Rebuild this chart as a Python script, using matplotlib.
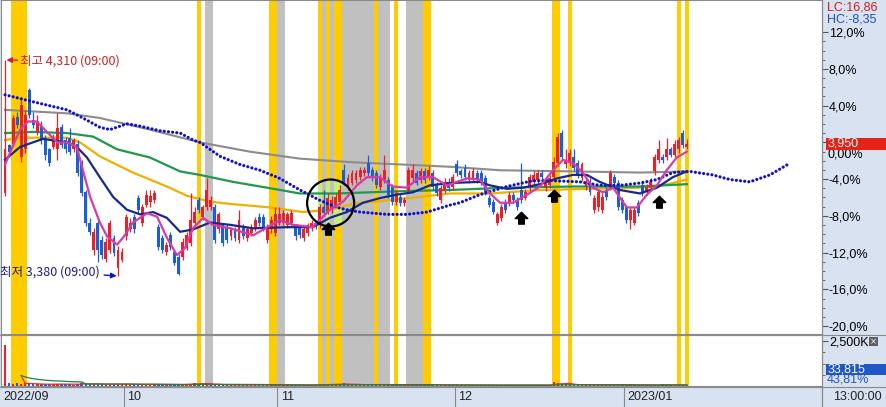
import numpy as np
import pandas as pd
import matplotlib
matplotlib.use("Agg")
import matplotlib.pyplot as plt
from matplotlib.patches import Rectangle, Circle
from matplotlib.lines import Line2D
from matplotlib.path import Path
from matplotlib.transforms import ScaledTranslation, blended_transform_factory

# === DATA ===
BASE_PRICE = 3955          # price at 0.00 %
LAST_PRICE = 3950
LAST_VOLUME = "33,815"
LAST_VOLUME_PCT = "43,81%"
LC_TEXT = "LC:16,86"
HC_TEXT = "HC:-8,35"
HIGH_IDX, HIGH_PRICE = 0, 4310
LOW_IDX, LOW_PRICE = 28, 3380
HIGH_LABEL = "최고 4,310 (09:00)"
LOW_LABEL = "최저 3,380 (09:00)"

OPEN = [3735, 3945, 3950, 4065, 3890, 3925, 4180, 4050, 4000, 4025,
        3965, 3925, 3935, 3925, 4020, 3965, 3975, 3925, 3950, 3865,
        3740, 3610, 3490, 3610, 3535, 3455, 3490, 3545, 3415, 3450,
        3550, 3580, 3635, 3715, 3610, 3685, 3700, 3705, 3590, 3545,
        3485, 3555, 3485, 3460, 3460, 3500, 3520, 3610, 3705, 3635,
        3675, 3675, 3675, 3580, 3600, 3590, 3550, 3580, 3535, 3590,
        3545, 3565, 3585, 3635, 3635, 3535, 3580, 3565, 3610, 3610,
        3600, 3610, 3590, 3585, 3545, 3565, 3585, 3610, 3600, 3675,
        3655, 3665, 3685, 3700, 3835, 3765, 3780, 3795, 3805, 3825,
        3865, 3835, 3825, 3765, 3795, 3795, 3765, 3700, 3720, 3695,
        3750, 3800, 3825, 3795, 3830, 3805, 3825, 3770, 3705, 3750,
        3785, 3765, 3860, 3830, 3845, 3795, 3800, 3825, 3825, 3800,
        3715, 3700, 3610, 3630, 3700, 3695, 3730, 3705, 3750, 3715,
        3760, 3785, 3795, 3825, 3760, 3770, 3805, 3865, 3995, 3860,
        3865, 3890, 3865, 3800, 3765, 3785, 3665, 3675, 3665, 3750,
        3765, 3805, 3780, 3705, 3675, 3620, 3610, 3695, 3770, 3740,
        3760, 3830, 3880, 3890, 3890, 3925, 3900, 3925, 3995, 3935]
HIGH = [4310, 3950, 4075, 4085, 4140, 4095, 4190, 4085, 4075, 4045,
        3985, 3930, 3990, 4080, 4035, 3980, 4015, 3975, 3965, 3880,
        3750, 3630, 3585, 3620, 3550, 3545, 3620, 3555, 3510, 3500,
        3645, 3630, 3645, 3730, 3690, 3750, 3750, 3750, 3605, 3555,
        3525, 3570, 3495, 3475, 3545, 3570, 3735, 3675, 3720, 3685,
        3800, 3725, 3690, 3655, 3610, 3605, 3590, 3590, 3665, 3605,
        3590, 3605, 3635, 3650, 3645, 3605, 3640, 3675, 3675, 3665,
        3655, 3665, 3605, 3600, 3590, 3610, 3620, 3620, 3690, 3750,
        3735, 3725, 3735, 3770, 3860, 3820, 3835, 3835, 3850, 3850,
        3900, 3850, 3835, 3820, 3900, 3805, 3775, 3750, 3735, 3720,
        3850, 3860, 3835, 3845, 3845, 3855, 3835, 3785, 3770, 3800,
        3800, 3820, 3880, 3840, 3860, 3835, 3845, 3835, 3835, 3815,
        3730, 3710, 3655, 3690, 3710, 3740, 3740, 3720, 3865, 3755,
        3820, 3830, 3835, 3835, 3800, 3815, 3890, 3995, 4010, 3925,
        3925, 3925, 3880, 3870, 3800, 3800, 3730, 3755, 3735, 3765,
        3835, 3820, 3795, 3720, 3685, 3675, 3675, 3705, 3785, 3775,
        3800, 3905, 3965, 3905, 3975, 3935, 3965, 3980, 4010, 3970]
LOW = [3725, 3900, 3940, 4015, 3870, 3910, 4060, 4015, 3985, 3950,
       3880, 3855, 3925, 3880, 3930, 3910, 3900, 3915, 3810, 3725,
       3595, 3555, 3470, 3440, 3455, 3440, 3480, 3465, 3380, 3440,
       3535, 3570, 3565, 3645, 3595, 3675, 3675, 3695, 3490, 3480,
       3470, 3490, 3425, 3385, 3450, 3490, 3510, 3600, 3650, 3620,
       3665, 3665, 3520, 3565, 3510, 3520, 3535, 3530, 3520, 3540,
       3530, 3550, 3575, 3595, 3575, 3520, 3565, 3550, 3600, 3600,
       3585, 3600, 3535, 3545, 3530, 3550, 3575, 3580, 3585, 3640,
       3645, 3650, 3675, 3685, 3770, 3750, 3770, 3780, 3795, 3810,
       3810, 3790, 3760, 3750, 3780, 3715, 3685, 3685, 3680, 3680,
       3735, 3790, 3770, 3780, 3780, 3795, 3750, 3725, 3695, 3735,
       3745, 3750, 3810, 3800, 3795, 3780, 3790, 3780, 3770, 3730,
       3675, 3645, 3600, 3615, 3650, 3680, 3695, 3665, 3695, 3705,
       3745, 3770, 3780, 3795, 3745, 3760, 3795, 3855, 3880, 3845,
       3855, 3830, 3800, 3790, 3750, 3730, 3650, 3660, 3650, 3705,
       3750, 3770, 3665, 3650, 3610, 3580, 3600, 3640, 3725, 3730,
       3745, 3815, 3865, 3865, 3880, 3890, 3890, 3910, 3930, 3925]
CLOSE = [3925, 3915, 4060, 4030, 4115, 4075, 4075, 4030, 4045, 3965,
         3900, 3865, 3975, 4015, 3945, 3925, 3915, 3965, 3825, 3735,
         3610, 3570, 3570, 3490, 3470, 3525, 3610, 3480, 3490, 3485,
         3635, 3610, 3580, 3665, 3675, 3730, 3725, 3735, 3505, 3490,
         3515, 3505, 3435, 3390, 3525, 3555, 3620, 3655, 3665, 3675,
         3750, 3705, 3535, 3645, 3520, 3535, 3580, 3545, 3620, 3550,
         3580, 3590, 3620, 3610, 3585, 3590, 3620, 3645, 3645, 3650,
         3645, 3650, 3550, 3555, 3580, 3600, 3610, 3590, 3675, 3650,
         3715, 3705, 3720, 3750, 3780, 3800, 3825, 3825, 3835, 3835,
         3825, 3800, 3770, 3805, 3835, 3730, 3700, 3735, 3695, 3705,
         3835, 3835, 3780, 3830, 3795, 3835, 3765, 3735, 3760, 3785,
         3760, 3805, 3825, 3815, 3805, 3825, 3830, 3795, 3785, 3740,
         3685, 3655, 3645, 3675, 3665, 3730, 3705, 3675, 3705, 3740,
         3805, 3815, 3825, 3805, 3785, 3800, 3870, 3980, 3890, 3880,
         3910, 3845, 3815, 3860, 3785, 3740, 3715, 3740, 3720, 3720,
         3825, 3780, 3675, 3665, 3620, 3665, 3665, 3650, 3735, 3765,
         3785, 3890, 3925, 3880, 3925, 3900, 3950, 3965, 3945, 3950]
VOLUME_K = [2300, 160, 130, 180, 120, 150, 110, 100, 90, 110,
            100, 90, 120, 130, 100, 90, 100, 80, 120, 140,
            120, 110, 120, 100, 100, 90, 110, 130, 120, 100,
            90, 80, 70, 100, 90, 80, 110, 60, 70, 90,
            80, 70, 60, 90, 80, 100, 120, 180, 90, 170,
            110, 70, 60, 80, 70, 60, 50, 70, 60, 50,
            70, 60, 50, 60, 80, 70, 60, 90, 70, 60,
            50, 60, 50, 40, 60, 50, 40, 60, 90, 70,
            110, 90, 100, 120, 140, 80, 70, 90, 60, 80,
            70, 100, 60, 50, 60, 50, 70, 80, 60, 50,
            110, 80, 70, 60, 90, 70, 50, 60, 50, 40,
            60, 50, 40, 50, 60, 40, 50, 40, 60, 50,
            40, 50, 60, 50, 40, 50, 60, 40, 50, 60,
            40, 50, 60, 50, 40, 50, 250, 180, 90, 120,
            70, 60, 50, 70, 60, 50, 40, 50, 60, 50,
            40, 60, 50, 40, 50, 60, 80, 70, 50, 40,
            60, 70, 50, 90, 80, 60, 70, 60, 50, 34]

# moving averages (bar index, price)
MA5_X = [0, 3.7, 5.7, 7.9, 10.4, 12.9, 15.4, 17.8, 19.3, 21.1, 23.5, 25.3, 27.8, 29.7,
         31.7, 35.2, 37.7, 40.1, 42.6, 44.6, 46.6, 49.1, 51.5, 55.8, 61.5, 68.1, 71.4,
         76.3, 80.5, 83.8, 87.2, 89.7, 92.9, 96.1, 99.6, 102.8, 106.1, 109.5, 114.5,
         117.7, 120.2, 122.7, 125.9, 129.4, 132.6, 135.8, 138.3, 140.8, 143.2, 145.7,
         148.2, 150.7, 154.1, 156.6, 159.1, 161.6, 164, 166.5, 169]
MA5_Y = [3860, 4010, 4045, 4045, 4000, 3955, 3955, 3935, 3835, 3720, 3610, 3550, 3515, 3555,
         3610, 3650, 3635, 3545, 3470, 3500, 3585, 3630, 3600, 3585, 3555, 3620, 3600,
         3590, 3665, 3700, 3770, 3805, 3805, 3765, 3760, 3805, 3805, 3770, 3800,
         3795, 3735, 3695, 3695, 3730, 3765, 3835, 3880, 3865, 3825, 3760,
         3740, 3760, 3675, 3675, 3730, 3770, 3835, 3890, 3915]
MA20_X = [0, 3.7, 6.9, 9.4, 15.4, 17.8, 20.3, 23.5, 26.8, 30.2, 33.5, 36.7, 40.1, 43.4,
          46.6, 50.8, 55.8, 61.5, 69.9, 76.3, 80.5, 84.7, 88.7, 92.9, 97.1, 101.1, 105.3,
          110.3, 117.7, 120.2, 124.4, 128.4, 132.6, 136.8, 140.8, 144.2, 147.4, 152.4,
          157.4, 161.6, 165.5, 169]
MA20_Y = [3880, 3935, 3955, 3970, 3955, 3935, 3890, 3805, 3720, 3665, 3645, 3655, 3630, 3570,
          3580, 3610, 3600, 3585, 3590, 3590, 3630, 3655, 3695, 3715, 3730, 3740, 3770,
          3780, 3785, 3770, 3755, 3760, 3775, 3800, 3815, 3815, 3785, 3750,
          3735, 3760, 3805, 3830]
MA60_X = [0, 6.9, 15.4, 21.8, 27.8, 35.9, 43.4, 48.3, 56.5, 64.9, 73.1, 82.3, 90.4, 98.6,
          110.3, 124.4, 140.8, 157.4, 169]
MA60_Y = [3995, 4000, 3995, 3980, 3925, 3890, 3830, 3815, 3785, 3760, 3735, 3735, 3740, 3745,
          3750, 3760, 3765, 3765, 3775]
MA120_X = [0, 3.7, 15.4, 18.6, 23.5, 31.7, 40.1, 45.1, 50.8, 55.8, 65.7, 73.8, 80.5, 86.2,
           94.7, 102.8, 110.3, 120.2, 132.6, 145, 157.4, 161.6, 165.5, 169]
MA120_Y = [3965, 3975, 3975, 3955, 3895, 3825, 3765, 3725, 3700, 3690, 3675, 3655, 3665, 3690,
           3705, 3720, 3735, 3735, 3750, 3755, 3760, 3765, 3780, 3795]
MA240_X = [0, 15.4, 23.5, 35.9, 48.3, 60.7, 73.1, 85.5, 97.9, 110.3, 122.7, 140.8, 157.4, 169]
MA240_Y = [4095, 4080, 4060, 4010, 3955, 3915, 3885, 3870, 3860, 3850, 3835, 3830, 3825, 3830]
# leading (shifted forward) line, drawn as dots
LEAD_X = [0, 6.9, 15.4, 19.3, 23.5, 26, 30.2, 33.5, 38.4, 43.4, 46.6, 48.3, 53.3, 58.2,
          63.2, 68.1, 73.1, 78.1, 82.3, 84.7, 88, 94.7, 99.6, 104.6, 110.3, 112.7, 117.7,
          124.4, 130.8, 135.8, 142.5, 147.4, 152.4, 157.4, 161.6, 165.5, 169.7, 175.4,
          179.7, 184.6, 189.6, 194.5]
LEAD_Y = [4160, 4130, 4095, 4060, 4020, 4010, 4035, 4025, 4005, 3995, 3965, 3955, 3895, 3860,
          3835, 3800, 3750, 3705, 3675, 3665, 3655, 3645, 3645, 3655, 3685, 3695, 3730,
          3765, 3790, 3790, 3785, 3770, 3770, 3780, 3795, 3825, 3830, 3815,
          3795, 3785, 3815, 3865]

# highlighted bar ranges (first bar, last bar)
YELLOW_BANDS = [(2, 5), (48, 48), (66, 67), (78, 78), (80, 80), (82, 83), (92, 92), (97, 97),
                (104, 105), (136, 137), (140, 140), (167, 167), (169, 169)]
GRAY_BANDS = [(50, 51), (68, 69), (79, 79), (81, 81), (84, 91), (93, 95), (100, 103)]

SIGNAL_IDX = [80, 128, 136, 162]
SIGNAL_PRICE = [3580, 3630, 3725, 3700]
CIRCLE_IDX, CIRCLE_PRICE = 80.7, 3694

MONTH_START = [30, 68, 112, 154]
MONTH_LABELS = ["2022/09", "10", "11", "12", "2023/01"]

# === STYLE ===
W, H, DPI = 886, 407, 100
PANEL = "#d8e2f0"
RED = "#e8202a"
BLUE = "#1c5fd4"
YELLOW = "#ffcc00"
BAND_GRAY = "#c0c0c0"
LIME = "#c8ee78"
EDGE = "#8a8a8a"

plt.rcParams["font.family"] = ["Liberation Sans", "Noto Sans CJK KR", "DejaVu Sans"]
plt.rcParams["font.size"] = 9
KR = ["Noto Sans CJK KR", "DejaVu Sans"]


def fx(px):
    return px / W


def fy(py):
    return 1 - py / H


fig = plt.figure(figsize=(W / DPI, H / DPI), dpi=DPI)
fig.patch.set_facecolor(PANEL)

ax = fig.add_axes([fx(1), fy(334), 821 / W, 334 / H])
axv = fig.add_axes([fx(1), fy(386), 821 / W, 51 / H])
axd = fig.add_axes([fx(1), 0, 821 / W, 20 / H])

XLIM = (-1.0, 202.5)
for a in (ax, axv, axd):
    a.set_xlim(*XLIM)
    a.set_xticks([])
    for s in a.spines.values():
        s.set_color(EDGE)
        s.set_linewidth(0.8)
ax.set_facecolor("white")
axv.set_facecolor("white")
axd.set_facecolor(PANEL)
ax.set_ylim(3130, 4568)
axv.set_ylim(0, 2835)
axd.set_ylim(0, 1)
axd.set_yticks([])

# --- bands ---
circ_tr = fig.dpi_scale_trans + ScaledTranslation(CIRCLE_IDX, CIRCLE_PRICE, ax.transData)
clip_circle = Circle((0, 0), radius=23.5 / DPI, transform=circ_tr)
for bands, col in ((YELLOW_BANDS, YELLOW), (GRAY_BANDS, BAND_GRAY)):
    for a0, a1 in bands:
        for a in (ax, axv):
            a.axvspan(a0 - 0.5, a1 + 0.5, color=col, lw=0, zorder=0.5)
for a0, a1 in YELLOW_BANDS:
    sp = ax.axvspan(a0 - 0.5, a1 + 0.5, color=LIME, lw=0, zorder=0.6)
    sp.set_clip_path(clip_circle)

# --- moving averages ---
ax.plot(MA240_X, MA240_Y, color="#8c8c8c", lw=1.5, zorder=2)
ax.plot(MA120_X, MA120_Y, color="#f0b000", lw=1.6, zorder=2)
ax.plot(MA60_X, MA60_Y, color="#1e9a48", lw=1.6, zorder=2)
ax.plot(LEAD_X, LEAD_Y, color="#1010cc", lw=2.3, linestyle=(0, (0.01, 1.3)),
        dash_capstyle="round", zorder=4)

# --- candles ---
x = np.arange(len(CLOSE))
o, h, l, c = map(np.array, (OPEN, HIGH, LOW, CLOSE))
colors = np.where(c >= o, RED, BLUE)
ax.vlines(x, l, h, colors=colors, lw=0.9, zorder=3)
ax.bar(x, np.maximum(np.abs(c - o), 4), bottom=np.minimum(o, c), width=0.72,
       color=colors, linewidth=0, zorder=3)

ax.plot(MA20_X, MA20_Y, color="#152a8a", lw=1.6, zorder=4)
ax.plot(MA5_X, MA5_Y, color="#d83aa8", lw=1.6, zorder=4)

# --- signal arrows ---
arrow = Path([(0, 1), (1, 0), (0.45, 0), (0.45, -0.9), (-0.45, -0.9), (-0.45, 0), (-1, 0), (0, 1)],
             [Path.MOVETO] + [Path.LINETO] * 6 + [Path.CLOSEPOLY])
ax.plot(SIGNAL_IDX, SIGNAL_PRICE, linestyle="none", marker=arrow, markersize=9,
        color="black", zorder=6)

ax.add_patch(Circle((0, 0), radius=23.5 / DPI, transform=circ_tr, fill=False,
                    ec="black", lw=1.6, zorder=6))

# --- high / low labels ---
ax.annotate(HIGH_LABEL, xy=(HIGH_IDX, HIGH_PRICE), xytext=(11, -1), textcoords="offset points",
            ha="left", va="center", color="#d02020", family=KR, fontsize=9,
            arrowprops=dict(arrowstyle="-|>", color="#d02020", lw=1, shrinkA=0, shrinkB=1,
                            mutation_scale=8), zorder=7)
ax.annotate(LOW_LABEL, xy=(LOW_IDX, LOW_PRICE), xytext=(-13, 3), textcoords="offset points",
            ha="right", va="center", color="#1a1a8c", family=KR, fontsize=9,
            arrowprops=dict(arrowstyle="-|>", color="#1010d0", lw=1, shrinkA=1, shrinkB=1,
                            mutation_scale=8), zorder=7)

# --- price axis (percent) ---
pcts = np.arange(-20, 13, 4)
ax.yaxis.tick_right()
ax.set_yticks(BASE_PRICE * (1 + pcts / 100))
ax.set_yticklabels(["" if p == 0 else f"{p:.1f}%".replace(".", ",") for p in pcts])
ax.set_yticks(BASE_PRICE * (1 + np.arange(-20, 13, 1) / 100), minor=True)
ax.tick_params(axis="y", which="major", direction="out", length=4, width=0.8, color="#555",
               pad=1, labelsize=9)
ax.tick_params(axis="y", which="minor", direction="out", length=2, width=0.6, color="#555")
ax.annotate("0,00%", xy=(1, BASE_PRICE), xycoords=("axes fraction", "data"), xytext=(4, -8.5),
            textcoords="offset points", ha="left", va="center", fontsize=9, annotation_clip=False)

# last price box
px_per_price = (334) / (4568 - 3130)
box_h = 12 / px_per_price
tr = blended_transform_factory(fig.transFigure, ax.transData)
ax.add_patch(Rectangle((fx(826), LAST_PRICE - box_h / 2), 60 / W, box_h, transform=tr,
                       facecolor="#e42218", edgecolor="none", clip_on=False, zorder=8))
ax.text(fx(828), LAST_PRICE, f"{LAST_PRICE:,}", transform=tr, color="white", va="center",
        ha="left", fontsize=9, zorder=9, clip_on=False)

fig.text(fx(827), fy(8), LC_TEXT, color="#d02020", va="center", fontsize=9)
fig.text(fx(827), fy(20), HC_TEXT, color="#2050c0", va="center", fontsize=9)

# --- volume ---
axv.bar(x, VOLUME_K, width=0.6, color=colors, linewidth=0, zorder=3)
vol = pd.Series(VOLUME_K, dtype=float)
axv.plot(x, vol.rolling(5, min_periods=5).mean(), color="#e03030", lw=0.9, zorder=4)
axv.plot(x, vol.rolling(20, min_periods=5).mean(), color="#208040", lw=0.9, zorder=4)
axv.yaxis.tick_right()
axv.set_yticks([2500])
axv.set_yticklabels(["2,500K"])
axv.set_yticks([625, 1250, 1875], minor=True)
axv.tick_params(axis="y", which="major", direction="out", length=4, width=0.8, color="#555",
                pad=1, labelsize=9)
axv.tick_params(axis="y", which="minor", direction="out", length=2, width=0.6, color="#555")

fig.patches.append(Rectangle((fx(826), fy(375)), 60 / W, 11 / H, transform=fig.transFigure,
                             facecolor="#1f56c8", edgecolor="none", figure=fig))
fig.text(fx(828), fy(369.5), LAST_VOLUME, color="white", va="center", fontsize=9)
fig.text(fx(827), fy(380), LAST_VOLUME_PCT, color="#1f56c8", va="center", fontsize=9)
fig.patches.append(Rectangle((fx(869), fy(346)), 9 / W, 9 / H, transform=fig.transFigure,
                             facecolor="#606060", edgecolor="none", figure=fig))
fig.text(fx(873.5), fy(341.5), "×", color="white", va="center", ha="center", fontsize=6,
         family="DejaVu Sans")

# --- date bar ---
for s in ("left", "bottom"):
    axd.spines[s].set_visible(False)
axd.annotate(MONTH_LABELS[0], xy=(XLIM[0], 0.5), xytext=(1.5, 0), textcoords="offset points",
             va="center", ha="left", fontsize=9, color="#222")
for m, lab in zip(MONTH_START, MONTH_LABELS[1:]):
    axd.axvline(m - 0.5, color=EDGE, lw=0.8)
    axd.annotate(lab, xy=(m - 0.5, 0.5), xytext=(2.5, 0), textcoords="offset points",
                 va="center", ha="left", fontsize=9, color="#222")
fig.text(fx(833), fy(397), "13:00:00", va="center", fontsize=9, color="#222")

# panel dividers
for yy in (334.5, 386.5):
    fig.add_artist(Line2D([0, 1], [fy(yy), fy(yy)], transform=fig.transFigure, color=EDGE, lw=0.8))
fig.add_artist(Line2D([fx(822), fx(822)], [0, 1], transform=fig.transFigure, color=EDGE, lw=0.8))

fig.savefig("out.png", dpi=DPI, facecolor=fig.get_facecolor())
